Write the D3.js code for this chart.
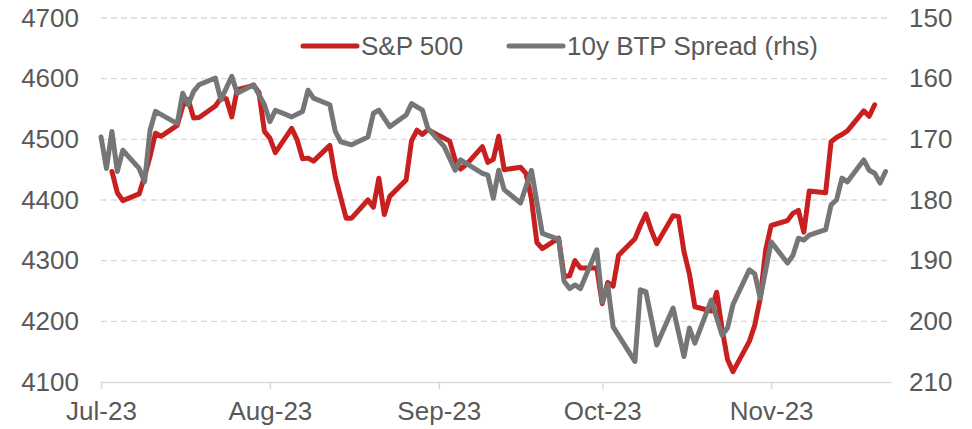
<!DOCTYPE html>
<html>
<head>
<meta charset="utf-8">
<script src="https://cdn.jsdelivr.net/npm/d3@7.9.0/dist/d3.min.js"></script>
<style>
  body { margin: 0; background: #fff; }
  svg text { font-family: Arial, "Liberation Sans", sans-serif; fill: #595959; }
</style>
</head>
<body>
<svg id="chart" width="972" height="429"></svg>
<script>
// S&P 500 (lhs), dates as placed on the source chart
const spxDates = [
  '07-03','07-04','07-05','07-08','07-09','07-10','07-11','07-12','07-15','07-16','07-17','07-18','07-19',
  '07-22','07-23','07-24','07-25','07-26','07-29','07-30','07-31','08-01','08-02','08-05','08-06','08-07',
  '08-08','08-09','08-12','08-13','08-14','08-15','08-16','08-19','08-20','08-21','08-22','08-23','08-26',
  '08-27','08-28','08-29','08-30','09-03','09-04','09-05','09-06','09-09','09-10','09-11','09-12','09-13',
  '09-16','09-17','09-18','09-19','09-20','09-23','09-24','09-25','09-26','09-27','09-30','10-01','10-02',
  '10-03','10-04','10-07','10-08','10-09','10-10','10-11','10-14','10-15','10-16','10-17','10-18','10-21',
  '10-22','10-23','10-24','10-25','10-28','10-29','10-30','10-31','11-01','11-04','11-05','11-06','11-07',
  '11-08','11-11','11-12','11-13','11-14','11-15','11-18','11-19','11-20'
];
const spxValues = [
  4447, 4412, 4399, 4410, 4439, 4472, 4510, 4505, 4523, 4555, 4566, 4535, 4536,
  4555, 4568, 4567, 4537, 4582, 4589, 4577, 4513, 4502, 4478, 4518, 4499, 4468,
  4469, 4464, 4490, 4438, 4404, 4370, 4370, 4400, 4388, 4436, 4376, 4406, 4433,
  4498, 4515, 4508, 4516, 4497, 4466, 4451, 4458, 4488, 4462, 4467, 4505, 4450,
  4454, 4444, 4402, 4330, 4320, 4337, 4274, 4275, 4300, 4288, 4288, 4229, 4264,
  4258, 4309, 4336, 4358, 4377, 4350, 4328, 4374, 4373, 4315, 4278, 4224, 4217,
  4248, 4187, 4137, 4117, 4167, 4194, 4238, 4318, 4358, 4366, 4378, 4383, 4347,
  4415, 4412, 4496, 4503, 4508, 4514, 4547, 4538, 4557
];

// 10y BTP spread (rhs, inverted)
const btpDates = [
  '07-01','07-02','07-03','07-04','07-05','07-08','07-09','07-10','07-11','07-15','07-16','07-17','07-18',
  '07-19','07-22','07-23','07-25','07-26','07-29','07-31','08-01','08-02','08-05','08-07','08-08','08-09',
  '08-12','08-13','08-14','08-16','08-19','08-20','08-21','08-23','08-26','08-27','08-29','08-30','09-02',
  '09-04','09-05','09-09','09-10','09-11','09-12','09-13','09-16','09-18','09-20','09-23','09-24','09-25',
  '09-26','09-27','09-30','10-01','10-02','10-03','10-07','10-08','10-09','10-11','10-14','10-16','10-17',
  '10-18','10-21','10-23','10-24','10-25','10-28','10-29','10-30','11-01','11-04','11-05','11-06','11-07',
  '11-08','11-11','11-12','11-13','11-14','11-15','11-18','11-19','11-20','11-21','11-22'
];
const btpValues = [
  169.6, 174.8, 168.7, 175.3, 171.8, 174.8, 177.0, 168.5, 165.4, 167.4, 162.4, 164.3, 162.1,
  161.0, 159.9, 163.5, 159.6, 162.4, 161.0, 164.3, 167.1, 165.2, 166.3, 165.4, 161.9, 163.2,
  164.3, 168.7, 170.4, 170.9, 169.6, 165.7, 165.2, 167.9, 166.0, 164.1, 165.2, 168.2, 171.2,
  175.1, 173.4, 175.6, 175.9, 179.7, 175.1, 178.3, 180.5, 175.1, 185.5, 186.5, 193.4, 194.6,
  194.0, 194.6, 188.2, 196.8, 194.0, 200.9, 206.6, 194.8, 195.1, 203.9, 197.8, 205.8, 201.1,
  203.6, 196.5, 202.3, 201.1, 197.2, 191.5, 192.2, 196.2, 186.9, 190.4, 189.1, 186.3, 186.6,
  185.8, 184.9, 180.8, 180.0, 176.4, 177.0, 173.4, 175.1, 175.6, 177.2, 175.3
];

const leftTicks = [4100, 4200, 4300, 4400, 4500, 4600, 4700];
const rightTicks = [150, 160, 170, 180, 190, 200, 210];
const monthTicks = ['07-01', '08-01', '09-01', '10-01', '11-01'];

const parseDay = d3.timeParse('%Y-%m-%d');
const day = (s) => parseDay('2023-' + s);

const spx = spxDates.map((d, i) => ({ date: day(d), value: spxValues[i] }));
const btp = btpDates.map((d, i) => ({ date: day(d), value: btpValues[i] }));

const svg = d3.select('#chart');
const fontSize = 26;

let x = d3.scaleTime()
  .domain([day('07-01'), day('11-23')])
  .range([101, 891]);

let yLeft = d3.scaleLinear().domain([4100, 4700]).range([382, 18]);
let yRight = d3.scaleLinear().domain([210, 150]).range([382, 18]);

// dashed gridlines
svg.append('g')
  .selectAll('line')
  .data(leftTicks.slice(1))
  .join('line')
  .attr('x1', 101)
  .attr('x2', 891)
  .attr('y1', (d) => yLeft(d))
  .attr('y2', (d) => yLeft(d))
  .attr('stroke', '#d9d9d9')
  .attr('stroke-width', 1.3)
  .attr('stroke-dasharray', '6,4');

// x axis
let xAxis = d3.axisBottom(x)
  .tickValues(monthTicks.map(day))
  .tickFormat(d3.timeFormat('%b-%y'))
  .tickSize(7)
  .tickSizeOuter(0);

let gx = svg.append('g')
  .attr('transform', `translate(0,${yLeft(4100)})`)
  .call(xAxis);
gx.select('.domain').attr('stroke', '#d9d9d9').attr('stroke-width', 1.5);
gx.selectAll('.tick line').attr('stroke', '#d9d9d9').attr('stroke-width', 1.5);
gx.selectAll('.tick text')
  .attr('y', 38)
  .attr('dy', 0)
  .attr('font-size', fontSize);

// left axis labels
let gl = svg.append('g')
  .attr('transform', 'translate(79,0)')
  .call(d3.axisLeft(yLeft).tickValues(leftTicks).tickFormat(d3.format('d')).tickSize(0).tickPadding(0));
gl.select('.domain').remove();
gl.selectAll('text').attr('font-size', fontSize);

// right axis labels
let gr = svg.append('g')
  .attr('transform', 'translate(909,0)')
  .call(d3.axisRight(yRight).tickValues(rightTicks).tickFormat(d3.format('d')).tickSize(0).tickPadding(0));
gr.select('.domain').remove();
gr.selectAll('text').attr('font-size', fontSize);

svg.selectAll('.tick text')
  .attr('font-family', 'Arial, "Liberation Sans", sans-serif')
  .attr('fill', '#595959');

// series
let spxLine = d3.line().x((d) => x(d.date)).y((d) => yLeft(d.value));
let btpLine = d3.line().x((d) => x(d.date)).y((d) => yRight(d.value));

svg.append('path')
  .datum(spx)
  .attr('d', spxLine)
  .attr('fill', 'none')
  .attr('stroke', '#c8201f')
  .attr('stroke-width', 5)
  .attr('stroke-linejoin', 'round')
  .attr('stroke-linecap', 'round');

svg.append('path')
  .datum(btp)
  .attr('d', btpLine)
  .attr('fill', 'none')
  .attr('stroke', '#767676')
  .attr('stroke-width', 5)
  .attr('stroke-linejoin', 'round')
  .attr('stroke-linecap', 'round');

// legend
const legendItems = [
  { label: 'S&P 500', color: '#c8201f', x: 303 },
  { label: '10y BTP Spread (rhs)', color: '#767676', x: 509 }
];

let legend = svg.append('g');
legendItems.forEach((d) => {
  legend.append('line')
    .attr('x1', d.x)
    .attr('x2', d.x + 54)
    .attr('y1', 46)
    .attr('y2', 46)
    .attr('stroke', d.color)
    .attr('stroke-width', 5)
    .attr('stroke-linecap', 'round');
  legend.append('text')
    .attr('x', d.x + 58)
    .attr('y', 55)
    .attr('font-size', fontSize)
    .text(d.label);
});
</script>
</body>
</html>
